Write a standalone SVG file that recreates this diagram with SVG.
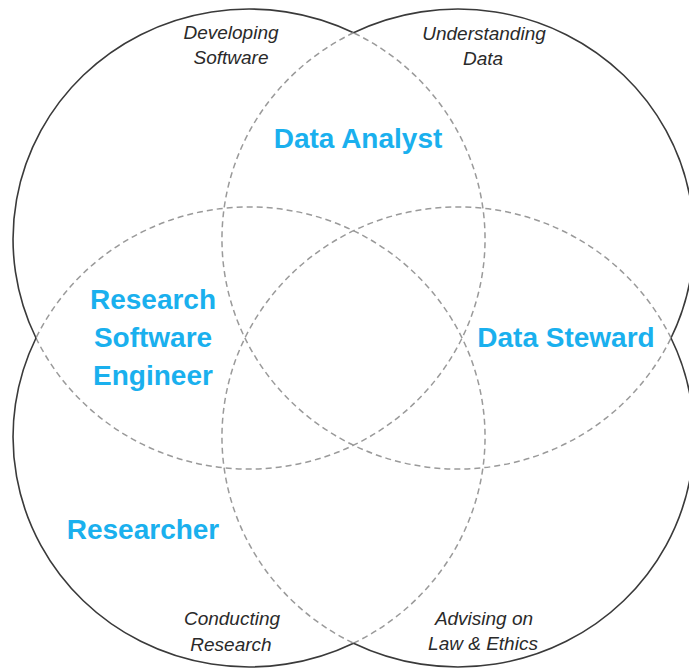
<svg xmlns="http://www.w3.org/2000/svg" width="689" height="671" viewBox="0 0 689 671">
  <style>
    .outer { fill: none; stroke: #3a3a3a; stroke-width: 1.6; }
    .inner { fill: none; stroke: #9a9a9a; stroke-width: 1.5; stroke-dasharray: 6 4; }
    .topic { font-family: "Liberation Sans", Arial, sans-serif; font-style: italic; font-size: 19px; fill: #2a2a2a; text-anchor: middle; }
    .role { font-family: "Liberation Sans", Arial, sans-serif; font-weight: bold; font-size: 28px; fill: #1ab0ee; text-anchor: middle; }
  </style>
  <rect x="0" y="0" width="689" height="671" fill="#ffffff"/>

  <g id="set-developing-software">
    <path class="inner" d="M 36,338 A 236 230 0 1 0 353.5,32.8"/>
    <path class="outer" d="M 353.5,32.8 A 236 230 0 0 0 36,338"/>
    <text class="topic" x="231" y="39">Developing</text>
    <text class="topic" x="231" y="64">Software</text>
  </g>

  <g id="set-understanding-data">
    <path class="inner" d="M 353.5,32.8 A 236 230 0 1 0 671,338"/>
    <path class="outer" d="M 671,338 A 236 230 0 0 0 353.5,32.8"/>
    <text class="topic" x="484" y="40">Understanding</text>
    <text class="topic" x="483" y="65">Data</text>
  </g>

  <g id="set-conducting-research">
    <path class="inner" d="M 353.5,643.2 A 236 230 0 1 0 36,338"/>
    <path class="outer" d="M 36,338 A 236 230 0 0 0 353.5,643.2"/>
    <text class="topic" x="232" y="625">Conducting</text>
    <text class="topic" x="231" y="651">Research</text>
  </g>

  <g id="set-advising-law-ethics">
    <path class="inner" d="M 671,338 A 236 230 0 1 0 353.5,643.2"/>
    <path class="outer" d="M 353.5,643.2 A 236 230 0 0 0 671,338"/>
    <text class="topic" x="484" y="625">Advising on</text>
    <text class="topic" x="483" y="650">Law &amp; Ethics</text>
  </g>

  <g id="role-data-analyst">
    <text class="role" x="358" y="148">Data Analyst</text>
  </g>
  <g id="role-research-software-engineer">
    <text class="role" x="153" y="309">Research</text>
    <text class="role" x="153" y="347">Software</text>
    <text class="role" x="153" y="385">Engineer</text>
  </g>
  <g id="role-data-steward">
    <text class="role" x="566" y="347">Data Steward</text>
  </g>
  <g id="role-researcher">
    <text class="role" x="143" y="539">Researcher</text>
  </g>

  <g id="connectors"></g>
</svg>
